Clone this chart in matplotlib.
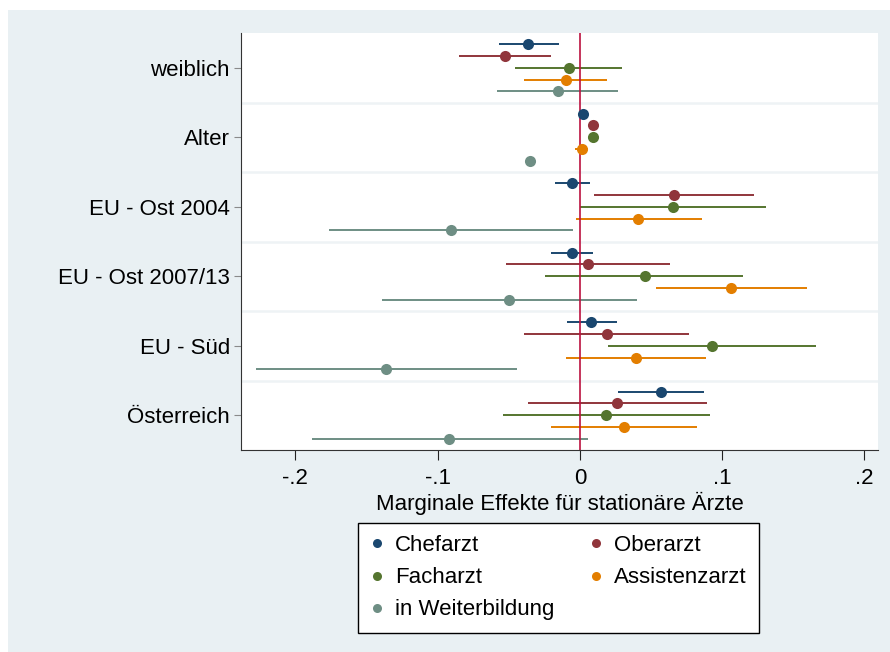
import numpy as np
import matplotlib
matplotlib.use("Agg")
import matplotlib.pyplot as plt
from matplotlib.lines import Line2D
from matplotlib.patches import Rectangle

plt.rcParams['font.family'] = ['Liberation Sans', 'DejaVu Sans']

# coefficient rows (top to bottom)
variables = ["weiblich", "Alter", "EU - Ost 2004", "EU - Ost 2007/13", "EU - Süd", "Österreich"]

# series: point estimate, lower and upper bound of CI
series_names = ["Chefarzt", "Oberarzt", "Facharzt", "Assistenzarzt", "in Weiterbildung"]
series_colors = ["#1a476f", "#90353b", "#55752f", "#e37e00", "#6e8e84"]

chef_b  = [-0.0366, 0.0025, -0.0056, -0.0056, 0.0079, 0.0569]
chef_lo = [-0.0572, 0.0005, -0.0178, -0.0202, -0.0092, 0.0271]
chef_hi = [-0.0145, 0.0045, 0.0072, 0.0089, 0.0260, 0.0869]

ober_b  = [-0.0530, 0.0091, 0.0658, 0.0056, 0.0190, 0.0260]
ober_lo = [-0.0848, 0.0071, 0.0096, -0.0518, -0.0392, -0.0368]
ober_hi = [-0.0202, 0.0111, 0.1225, 0.0630, 0.0770, 0.0895]

fach_b  = [-0.0080, 0.0091, 0.0651, 0.0454, 0.0928, 0.0185]
fach_lo = [-0.0455, 0.0071, 0.0002, -0.0244, 0.0197, -0.0544]
fach_hi = [0.0295, 0.0111, 0.1310, 0.1148, 0.1656, 0.0911]

assi_b  = [-0.0098, 0.0018, 0.0410, 0.1061, 0.0396, 0.0307]
assi_lo = [-0.0390, -0.0033, -0.0028, 0.0534, -0.0096, -0.0204]
assi_hi = [0.0190, 0.0060, 0.0857, 0.1593, 0.0883, 0.0822]

wb_b  = [-0.0157, -0.0354, -0.0907, -0.0499, -0.1364, -0.0917]
wb_lo = [-0.0586, -0.0374, -0.1767, -0.1394, -0.2277, -0.1880]
wb_hi = [0.0271, -0.0334, -0.0049, 0.0401, -0.0443, 0.0060]

est = [chef_b, ober_b, fach_b, assi_b, wb_b]
lows = [chef_lo, ober_lo, fach_lo, assi_lo, wb_lo]
highs = [chef_hi, ober_hi, fach_hi, assi_hi, wb_hi]

xticks = [-0.2, -0.1, 0, 0.1, 0.2]
xticklabels = ["-.2", "-.1", "0", ".1", ".2"]
xlabel = "Marginale Effekte für stationäre Ärzte"

W, H = 890, 652
fig = plt.figure(figsize=(W / 100, H / 100), dpi=100, facecolor="white")
# graph region background (screenshot has white strip at left/top)
fig.patches.append(Rectangle((8 / W, 0), 1 - 8 / W, 1 - 10 / H, transform=fig.transFigure,
                             facecolor="#e9f0f3", edgecolor="none", zorder=-10))

ax = fig.add_axes([241 / W, 1 - 450 / H, (878 - 241) / W, (450 - 33) / H])
ax.set_zorder(2)
ax.set_facecolor("white")

pos = np.arange(1, len(variables) + 1)
offsets = [-0.34, -0.17, 0.0, 0.17, 0.34]

# separator lines between groups
for yb in pos[:-1] + 0.5:
    ax.axhline(yb, color="#eef3f5", lw=1.8, zorder=0.5)

ax.axvline(0, color="#bb1240", lw=1.2, zorder=2)

for k in range(len(series_names)):
    y = pos + offsets[k]
    ax.hlines(y, lows[k], highs[k], color=series_colors[k], lw=1.4, zorder=1.5)
    ax.plot(est[k], y, "o", color=series_colors[k], ms=8, mec="none", zorder=3)

ax.set_xlim(-0.2382, 0.2095)
ax.set_ylim(6.5, 0.5)

ax.set_yticks(pos)
ax.set_yticklabels(variables, fontsize=16)
ax.set_xticks(xticks)
ax.set_xticklabels(xticklabels, fontsize=16)
ax.set_xlabel(xlabel, fontsize=16, labelpad=2)

for s in ["top", "right"]:
    ax.spines[s].set_visible(False)
ax.spines["left"].set_color("#333333")
ax.spines["bottom"].set_color("#333333")
ax.tick_params(axis="y", length=5, color="#8a8a8a", pad=3)
ax.tick_params(axis="x", length=7, color="#222222", pad=6)

handles = [Line2D([], [], ls="none", marker="o", ms=6.5, mec="none", color=c) for c in series_colors]
order = [0, 2, 4, 1, 3]
leg = fig.legend([handles[i] for i in order], [series_names[i] for i in order],
                 ncol=2, loc="upper left", bbox_to_anchor=(358 / W, 1 - 523 / H),
                 fontsize=16, frameon=True, fancybox=False, framealpha=1,
                 handlelength=0.6, handletextpad=0.5, columnspacing=1.6,
                 labelspacing=0.5, borderpad=0.55, borderaxespad=0)
leg.get_frame().set_edgecolor("black")
leg.get_frame().set_linewidth(1.0)
leg.get_frame().set_facecolor("white")

fig.savefig("out.png", dpi=100, facecolor=fig.get_facecolor())
